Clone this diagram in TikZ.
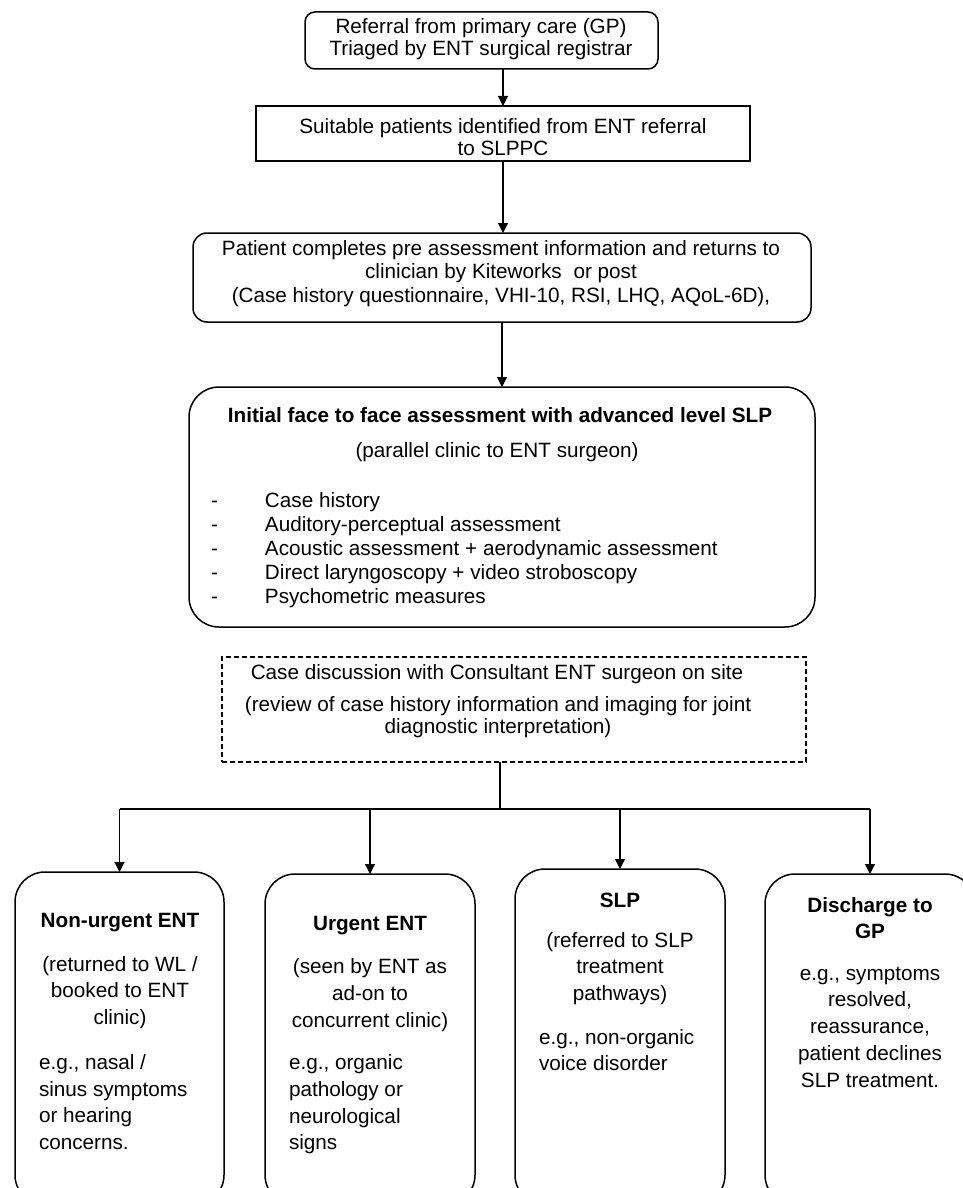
\documentclass[tikz,border=0pt]{standalone}
\usepackage{fontspec}
\setmainfont{Liberation Sans}
\usetikzlibrary{arrows.meta}
\begin{document}
\begin{tikzpicture}[x=1pt,y=-1pt,
  every node/.style={inner sep=0pt, outer sep=0pt},
  boxbase/.style={draw, line width=1.5pt, fill=none},
  roundbox/.style={boxbase, rounded corners=#1},
  sharpbox/.style={boxbase},
  dashbox/.style={draw, line width=1.3pt, dash pattern=on 5pt off 3pt},
  conn/.style={line width=1.1pt},
  arr/.style={conn, -{Triangle[width=10pt,length=10pt]}},
  tA/.style={align=center, font=\fontsize{20.7}{22.5}\selectfont},
  tB/.style={align=center, font=\fontsize{20.7}{26.7}\selectfont},
  tL/.style={align=left, anchor=west, font=\fontsize{20.7}{26.7}\selectfont},
  tBold/.style={align=center, font=\fontsize{20.7}{26}\selectfont\bfseries}
]
\useasboundingbox (0,0) rectangle (963,1188);

% boxes
\node[roundbox=10pt, minimum width=353pt, minimum height=57pt] (ref) at (481.5,40.5) {};
\node[sharpbox, minimum width=494pt, minimum height=55pt] (sui) at (503,133.5) {};
\node[roundbox=14pt, minimum width=618pt, minimum height=89pt] (pre) at (502,277.5) {};
\node[roundbox=30pt, minimum width=626pt, minimum height=240pt] (ini) at (502,507) {};
\node[dashbox, minimum width=584pt, minimum height=105pt] (disc) at (514,709.5) {};
\node[roundbox=30pt, minimum width=209pt, minimum height=333pt] (b1) at (119.5,1038.5) {};
\node[roundbox=30pt, minimum width=210pt, minimum height=331pt] (b2) at (370,1039.5) {};
\node[roundbox=30pt, minimum width=210pt, minimum height=336pt] (b3) at (620,1037) {};
\node[roundbox=30pt, minimum width=210pt, minimum height=331pt] (b4) at (870,1039.5) {};

% texts
\node[tA] (refT) at (481,39) {Referral from primary care (GP)\\Triaged by ENT surgical registrar};
\node[tA] (suiT) at (503,137) {Suitable patients identified from ENT referral\\to SLPPC};
\node[tA, font=\fontsize{20.7}{23.5}\selectfont] (preT) at (501,273.5) {Patient completes pre assessment information and returns to\\clinician by Kiteworks\hspace{6pt} or post\hspace*{16pt}\\(Case history questionnaire, VHI-10, RSI, LHQ, AQoL-6D),};

\node[tBold] (iniT) at (500,415) {Initial face to face assessment with advanced level SLP};
\node[tA] (iniP) at (497,452) {(parallel clinic to ENT surgeon)};
\node[tL, font=\fontsize{20.7}{24}\selectfont] (iniL) at (211,550) {%
\makebox[54pt][l]{-}Case history\\
\makebox[54pt][l]{-}Auditory-perceptual assessment\\
\makebox[54pt][l]{-}Acoustic assessment + aerodynamic assessment\\
\makebox[54pt][l]{-}Direct laryngoscopy + video stroboscopy\\
\makebox[54pt][l]{-}Psychometric measures};

\node[tA] (discT) at (497,674) {Case discussion with Consultant ENT surgeon on site};
\node[tA, font=\fontsize{20.7}{22}\selectfont] (discP) at (498,717) {(review of case history information and imaging for joint\\diagnostic interpretation)};

\node[tBold] (b1T) at (120,923) {Non-urgent ENT};
\node[tB] (b1P) at (120,992.5) {(returned to WL /\\booked to ENT\\clinic)};
\node[tL] (b1E) at (39,1102) {e.g., nasal /\\sinus symptoms\\or hearing\\concerns.};

\node[tBold] (b2T) at (370,926) {Urgent ENT};
\node[tB] (b2P) at (370,995) {(seen by ENT as\\ad-on to\\concurrent clinic)};
\node[tL] (b2E) at (289,1104.5) {e.g., organic\\pathology or\\neurological\\signs};

\node[tBold] (b3T) at (620,900) {SLP};
\node[tB] (b3P) at (620,968.5) {(referred to SLP\\treatment\\pathways)};
\node[tL] (b3E) at (539,1050) {e.g., non-organic\\voice disorder};

\node[tBold] (b4T) at (870,918) {Discharge to\\GP};
\node[tB] (b4E) at (870,1027) {e.g., symptoms\\resolved,\\reassurance,\\patient declines\\SLP treatment.};

% connectors
\draw[arr] (ref.south -| sui.north) -- (sui.north);
\draw[arr] (sui.south) -- (sui.south |- pre.north);
\draw[arr] (pre.south) -- (ini.north);
\coordinate (j) at (500,809);
\coordinate (hl) at (120,809);
\coordinate (hr) at (870,809);
\draw[conn] (disc.south -| j) -- (j);
\draw[conn] (hl) -- (hr);
\draw[arr] (b1.north |- hl) -- (b1.north);
\draw[arr] (b2.north |- hl) -- (b2.north);
\draw[arr] (b3.north |- hl) -- (b3.north);
\draw[arr] (b4.north |- hl) -- (b4.north);
\end{tikzpicture}
\end{document}
